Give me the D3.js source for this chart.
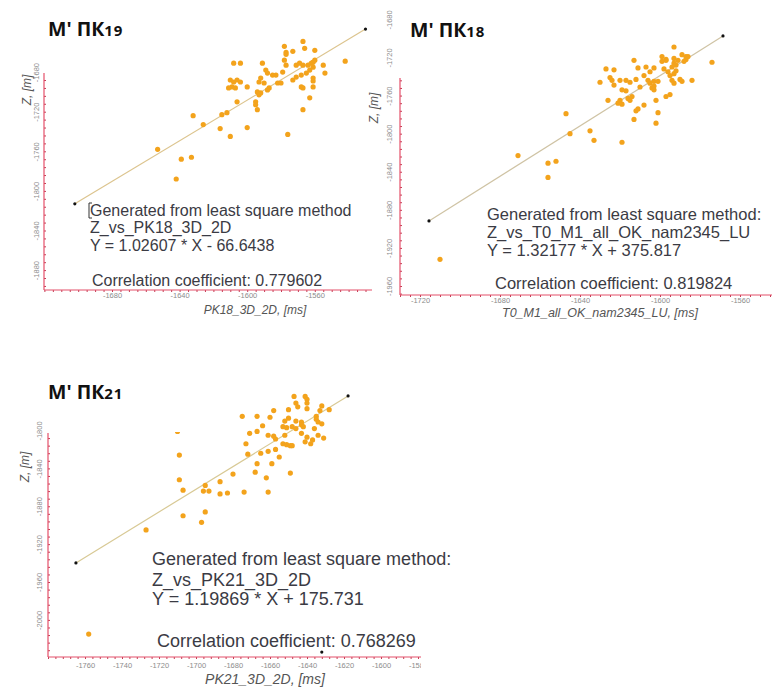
<!DOCTYPE html>
<html>
<head>
<meta charset="utf-8">
<script src="https://cdn.jsdelivr.net/npm/d3@7"></script>
<style>
  body { margin: 0; background: #fff; }
  svg text { font-family: "Liberation Sans", Arial, sans-serif; }
</style>
</head>
<body>
<div id="vis"></div>
<script>
// ---- PK19: Z vs PK18_3D_2D ----
var pk19Time = [-1567,-1566,-1578,-1577,-1577,-1573,-1560,-1608,-1604,-1591,
  -1578,-1577,-1589,-1588,-1585,-1583,-1579,-1571,-1569,-1567,
  -1564,-1562,-1561,-1560,-1561,-1563,-1565,-1568,-1571,-1573,
  -1555,-1554,-1542,-1561,-1561,-1561,-1568,-1567,-1610,-1608,
  -1606,-1604,-1609,-1607,-1611,-1600,-1592,-1593,-1590,-1582,
  -1580,-1587,-1588,-1594,-1592,-1593,-1606,-1595,-1595,-1594,
  -1563,-1567,-1632,-1615,-1612,-1626,-1616,-1600,-1610,-1576,
  -1653,-1639,-1633,-1642];
var pk19Depth = [-1649,-1656,-1654,-1660,-1662,-1659,-1658,-1671,-1671,-1671,
  -1668,-1673,-1678,-1681,-1683,-1683,-1680,-1673,-1671,-1673,
  -1673,-1671,-1670,-1668,-1675,-1678,-1681,-1683,-1685,-1688,
  -1673,-1681,-1669,-1686,-1689,-1695,-1695,-1696,-1688,-1690,
  -1688,-1690,-1695,-1696,-1696,-1695,-1686,-1690,-1691,-1691,
  -1691,-1696,-1698,-1700,-1701,-1703,-1710,-1710,-1713,-1718,
  -1706,-1718,-1724,-1723,-1721,-1733,-1737,-1736,-1745,-1743,
  -1758,-1768,-1766,-1788];
var pk19Fit = [1.02607, -66.6438];   // slope, intercept
var pk19FitRange = [-1702, -1530];
var pk19Corr = 0.779602;
var pk19XTicks = [-1680, -1640, -1600, -1560];
var pk19YTicks = [-1680, -1720, -1760, -1800, -1840, -1880];

// ---- PK18: Z vs T0_M1_all_OK_nam2345_LU ----
var pk18Time = [-1593,-1599,-1597,-1599,-1597,-1593,-1591,-1589,-1587,-1587,
  -1586,-1588,-1593,-1592,-1594,-1574,-1613,-1627,-1623,-1611,
  -1607,-1603,-1598,-1596,-1593,-1592,-1595,-1594,-1593,-1590,
  -1589,-1584,-1605,-1608,-1606,-1605,-1603,-1601,-1630,-1625,
  -1624,-1620,-1617,-1615,-1612,-1623,-1619,-1617,-1610,-1604,
  -1603,-1603,-1597,-1595,-1626,-1620,-1621,-1619,-1616,-1615,
  -1614,-1602,-1608,-1611,-1612,-1601,-1613,-1602,-1647,-1635,
  -1645,-1633,-1619,-1656,-1652,-1656,-1671,-1710];
var pk18Depth = [-1709,-1719,-1723,-1724,-1722,-1721,-1723,-1717,-1719,-1722,
  -1719,-1724,-1726,-1728,-1730,-1725,-1723,-1732,-1733,-1731,
  -1730,-1731,-1732,-1735,-1737,-1734,-1739,-1744,-1747,-1743,
  -1745,-1744,-1735,-1739,-1744,-1747,-1745,-1745,-1746,-1741,
  -1744,-1744,-1744,-1746,-1743,-1749,-1754,-1755,-1751,-1752,
  -1754,-1750,-1761,-1759,-1765,-1765,-1768,-1769,-1763,-1765,
  -1761,-1765,-1770,-1774,-1776,-1778,-1785,-1789,-1779,-1797,
  -1800,-1807,-1809,-1831,-1829,-1846,-1823,-1932];
var pk18Fit = [1.32177, 375.817];
var pk18FitRange = [-1715.5, -1568.5];
var pk18Corr = 0.819824;
var pk18XTicks = [-1720, -1680, -1640, -1600, -1560];
var pk18YTicks = [-1680, -1720, -1760, -1800, -1840, -1880, -1920, -1960];

// ---- PK21: Z vs PK21_3D_2D ----
var pk21Time = [-1647,-1641,-1640,-1640,-1646,-1645,-1650,-1640,-1632,-1633,
  -1628,-1658,-1667,-1660,-1675,-1650,-1652,-1646,-1643,-1635,
  -1635,-1634,-1632,-1664,-1671,-1667,-1661,-1658,-1657,-1653,
  -1651,-1648,-1646,-1643,-1642,-1652,-1643,-1640,-1636,-1634,
  -1631,-1673,-1665,-1661,-1657,-1655,-1653,-1651,-1649,-1648,
  -1641,-1638,-1637,-1672,-1667,-1659,-1668,-1662,-1649,-1680,
  -1687,-1674,-1683,-1687,-1661,-1709,-1709,-1707,-1695,-1696,
  -1693,-1707,-1695,-1697,-1710,-1727,-1758];
var pk21Depth = [-1764,-1764,-1767,-1771,-1771,-1775,-1778,-1777,-1774,-1779,
  -1778,-1779,-1785,-1786,-1785,-1787,-1790,-1790,-1791,-1785,
  -1788,-1791,-1793,-1795,-1803,-1801,-1805,-1806,-1809,-1796,
  -1797,-1796,-1798,-1794,-1796,-1805,-1803,-1807,-1798,-1805,
  -1808,-1814,-1824,-1822,-1820,-1828,-1814,-1815,-1816,-1816,
  -1812,-1814,-1810,-1825,-1835,-1835,-1844,-1850,-1845,-1846,
  -1854,-1865,-1866,-1867,-1865,-1826,-1852,-1863,-1858,-1864,
  -1864,-1890,-1886,-1897,-1801,-1905,-2015];
var pk21Fit = [1.19869, 175.731];
var pk21FitRange = [-1764.9, -1617.8];
var pk21Corr = 0.768269;
var pk21Marker = [-1632, -2034];
var pk21XTicks = [-1760, -1740, -1720, -1700, -1680, -1660, -1640, -1620, -1600, -1580];
var pk21YTicks = [-1800, -1840, -1880, -1920, -1960, -2000];

var width = 772, height = 689;
var axisRed = '#e4506a';
var dotColor = '#f3a31c';

var svg = d3.select('#vis').append('svg')
  .attr('width', width)
  .attr('height', height);

svg.append('rect').attr('width', width).attr('height', height).attr('fill', '#fff');

var defs = svg.append('defs');
// bottom panel: the top-left corner sits behind the title
defs.append('clipPath').attr('id', 'clip-pk21')
  .append('path')
  .attr('d', 'M0,432 H205 V380 H772 V689 H0 Z');
defs.append('clipPath').attr('id', 'clip-pk21-axis')
  .append('rect').attr('x', 0).attr('y', 380).attr('width', 421).attr('height', 309);

function fmt(d) { return String(d); }

function drawPanel(p) {
  var g = svg.append('g');
  var x = d3.scaleLinear().domain(p.xDomain).range(p.xRange);
  var y = d3.scaleLinear().domain(p.yDomain).range(p.yRange);
  var f = p.frame;

  // axes
  var axes = g.append('g');
  if (p.axisClip) axes.attr('clip-path', 'url(#' + p.axisClip + ')');

  var xAxis = axes.append('g')
    .attr('transform', 'translate(0,' + f.bottom + ')')
    .call(d3.axisBottom(x).tickValues(p.xTicks).tickSize(0).tickPadding(p.xPad).tickFormat(fmt));
  xAxis.select('.domain').remove();
  xAxis.selectAll('text').attr('fill', '#8c8c8c').style('font-size', p.tickFont + 'px');

  var yAxis = axes.append('g')
    .attr('transform', 'translate(' + f.left + ',0)')
    .call(d3.axisLeft(y).tickValues(p.yTicks).tickSize(0).tickFormat(fmt));
  yAxis.select('.domain').remove();
  yAxis.selectAll('text')
    .attr('transform', 'rotate(-90)')
    .attr('x', 0)
    .attr('y', -p.yPad)
    .attr('dy', 0)
    .attr('text-anchor', 'middle')
    .attr('fill', '#8c8c8c')
    .style('font-size', p.tickFont + 'px');

  // minor ticks along the frame
  var xLo = x.invert(f.left), xHi = x.invert(f.right);
  var xMinor = d3.range(Math.ceil(xLo / p.xMinor) * p.xMinor, xHi, p.xMinor);
  var xm = axes.append('g')
    .attr('transform', 'translate(0,' + f.bottom + ')')
    .call(d3.axisBottom(x).tickValues(xMinor).tickSize(2).tickFormat(''));
  xm.select('.domain').remove();
  xm.selectAll('line').attr('stroke', '#c23a52');

  var yLo = y.invert(f.bottom), yHi = y.invert(f.top);
  var yMinor = d3.range(Math.ceil(yLo / p.yMinor) * p.yMinor, yHi, p.yMinor);
  var ym = axes.append('g')
    .attr('transform', 'translate(' + f.left + ',0)')
    .call(d3.axisRight(y).tickValues(yMinor).tickSize(2).tickFormat(''));
  ym.select('.domain').remove();
  ym.selectAll('line').attr('stroke', '#c23a52');

  axes.append('line')
    .attr('x1', f.left).attr('x2', f.right)
    .attr('y1', f.bottom).attr('y2', f.bottom)
    .attr('stroke', axisRed).attr('stroke-width', 1.2);
  axes.append('line')
    .attr('x1', f.left).attr('x2', f.left)
    .attr('y1', f.top).attr('y2', f.bottom)
    .attr('stroke', axisRed).attr('stroke-width', 1.2);

  // axis titles
  g.append('text')
    .attr('x', p.xTitle[0]).attr('y', p.xTitle[1])
    .attr('text-anchor', 'middle')
    .attr('fill', '#555')
    .style('font-style', 'italic')
    .style('font-size', p.xTitleFont + 'px')
    .text(p.xLabel);

  g.append('text')
    .attr('transform', 'translate(' + p.zTitle[0] + ',' + p.zTitle[1] + ') rotate(-90)')
    .attr('text-anchor', 'middle')
    .attr('fill', '#555')
    .style('font-style', 'italic')
    .style('font-size', '12px')
    .text('Z, [m]');

  // scatter
  var pts = p.time.map(function (t, i) { return { t: t, z: p.depth[i] }; });
  var dots = g.append('g');
  if (p.clip) dots.attr('clip-path', 'url(#' + p.clip + ')');

  var fitY = function (t) { return p.fit[0] * t + p.fit[1]; };
  dots.append('line')
    .attr('x1', x(p.fitRange[0])).attr('y1', y(fitY(p.fitRange[0])))
    .attr('x2', x(p.fitRange[1])).attr('y2', y(fitY(p.fitRange[1])))
    .attr('stroke', p.lineColor)
    .attr('stroke-width', 1.2);

  dots.selectAll('circle.pt')
    .data(pts)
    .enter().append('circle')
    .attr('class', 'pt')
    .attr('cx', function (d) { return x(d.t); })
    .attr('cy', function (d) { return y(d.z); })
    .attr('r', 2.6)
    .attr('fill', dotColor);

  dots.selectAll('circle.end')
    .data(p.fitRange)
    .enter().append('circle')
    .attr('class', 'end')
    .attr('cx', function (d) { return x(d); })
    .attr('cy', function (d) { return y(fitY(d)); })
    .attr('r', 1.6)
    .attr('fill', '#111');

  if (p.marker) {
    dots.append('circle')
      .attr('cx', x(p.marker[0])).attr('cy', y(p.marker[1]))
      .attr('r', 1.6).attr('fill', '#111');
  }

  // regression info
  var sign = p.fit[1] < 0 ? ' - ' : ' + ';
  var lines = [
    p.header,
    p.name,
    'Y = ' + p.fit[0] + ' * X' + sign + Math.abs(p.fit[1])
  ];
  g.selectAll('text.info')
    .data(lines)
    .enter().append('text')
    .attr('class', 'info')
    .attr('x', p.info.x)
    .attr('y', function (d, i) { return p.info.lines[i]; })
    .attr('fill', '#3b3b44')
    .style('font-size', p.info.font + 'px')
    .text(function (d) { return d; });

  g.append('text')
    .attr('x', p.info.corrX).attr('y', p.info.corrY)
    .attr('fill', '#3b3b44')
    .style('font-size', p.info.font + 'px')
    .text('Correlation coefficient: ' + p.corr);

  // panel title, e.g. М' ПК19
  var title = g.append('text')
    .attr('x', p.title[0]).attr('y', p.title[1])
    .attr('fill', '#111')
    .style('font-weight', 'bold')
    .style('font-family', '"Open Sans", "Liberation Sans", sans-serif');
  title.append('tspan').style('font-size', '19.5px').text("М' ПК");
  title.append('tspan').style('font-size', '15px').style('letter-spacing', '0.8px').text(p.titleNum);

  return g;
}

drawPanel({
  time: pk19Time, depth: pk19Depth, fit: pk19Fit, fitRange: pk19FitRange, corr: pk19Corr,
  xDomain: [-1680, -1560], xRange: [112, 314.8],
  yDomain: [-1680, -1880], yRange: [72.1, 270.1],
  frame: { left: 44, right: 372, top: 73, bottom: 290 },
  xTicks: pk19XTicks, yTicks: pk19YTicks, xMinor: 5, yMinor: 8,
  xPad: 3, yPad: 5, tickFont: 7.5,
  xLabel: 'PK18_3D_2D, [ms]', xTitle: [255, 314], xTitleFont: 12,
  zTitle: [31, 90],
  lineColor: '#dcc48e',
  header: 'Generated from least square method', name: 'Z_vs_PK18_3D_2D',
  info: { x: 90, lines: [216, 233, 251], corrX: 92, corrY: 286, font: 16 },
  title: [48, 36], titleNum: '19'
});

drawPanel({
  time: pk18Time, depth: pk18Depth, fit: pk18Fit, fitRange: pk18FitRange, corr: pk18Corr,
  xDomain: [-1720, -1560], xRange: [420, 740],
  yDomain: [-1680, -1960], yRange: [19.4, 286],
  frame: { left: 400, right: 772, top: 78, bottom: 295 },
  xTicks: pk18XTicks, yTicks: pk18YTicks, xMinor: 5, yMinor: 8,
  xPad: 3, yPad: 8, tickFont: 7.5,
  xLabel: 'T0_M1_all_OK_nam2345_LU, [ms]', xTitle: [600, 317], xTitleFont: 12.5,
  zTitle: [378, 108],
  lineColor: '#cfc3a4',
  header: 'Generated from least square method:', name: 'Z_vs_T0_M1_all_OK_nam2345_LU',
  info: { x: 487, lines: [220, 238, 256], corrX: 495, corrY: 289, font: 16.5 },
  title: [410, 37], titleNum: '18'
});

drawPanel({
  time: pk21Time, depth: pk21Depth, fit: pk21Fit, fitRange: pk21FitRange, corr: pk21Corr,
  marker: pk21Marker,
  xDomain: [-1760, -1600], xRange: [85, 381],
  yDomain: [-1800, -2000], yRange: [430.5, 619.9],
  frame: { left: 48, right: 425, top: 433, bottom: 657 },
  xTicks: pk21XTicks, yTicks: pk21YTicks, xMinor: 4, yMinor: 8,
  xPad: 6, yPad: 6, tickFont: 7.5,
  xLabel: 'PK21_3D_2D, [ms]', xTitle: [265, 684], xTitleFont: 14,
  zTitle: [29, 467],
  lineColor: '#d8c995',
  header: 'Generated from least square method:', name: 'Z_vs_PK21_3D_2D',
  info: { x: 152, lines: [565, 586, 605], corrX: 157, corrY: 647, font: 18 },
  title: [48, 399], titleNum: '21',
  clip: 'clip-pk21', axisClip: 'clip-pk21-axis'
});

// text cursor left in the first panel's note
svg.append('path')
  .attr('d', 'M92,203 H89 V218 H92')
  .attr('fill', 'none')
  .attr('stroke', '#333')
  .attr('stroke-width', 1);
</script>
</body>
</html>
